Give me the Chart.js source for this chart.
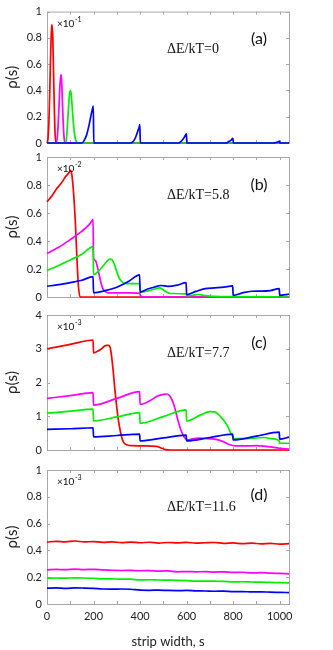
<!DOCTYPE html>
<html>
<head>
<meta charset="utf-8">
<script src="https://cdn.jsdelivr.net/npm/chart.js@4"></script>
<style>
  body { margin: 0; background: #fff; }
  #wrap { position: relative; width: 333px; height: 650px; }
  #wrap canvas { position: absolute; left: 0; top: 0; }
</style>
</head>
<body>
<div id="wrap">
  <canvas id="pa" width="333" height="650"></canvas>
  <canvas id="pb" width="333" height="650"></canvas>
  <canvas id="pc" width="333" height="650"></canvas>
  <canvas id="pd" width="333" height="650"></canvas>
</div>
<script>
// x tick marks and the labels shown on the bottom panel
const xTickValues = [0, 100, 200, 300, 400, 500, 600, 700, 800, 900, 1000];
const xTickLabels = [0, 200, 400, 600, 800, 1000];

// panel (a)  dE/kT = 0   (x10^-1)
const aRedX = [0, 4, 8, 12, 16, 20, 22, 25, 28, 31, 34, 38, 1040];
const aRedY = [0, 0.03, 0.15, 0.4, 0.7, 0.88, 0.9, 0.8, 0.55, 0.3, 0.1, 0, 0];
const aMagX = [0, 40, 44, 48, 52, 56, 60, 63, 66, 70, 74, 78, 1040];
const aMagY = [0, 0, 0.04, 0.14, 0.3, 0.45, 0.52, 0.47, 0.32, 0.14, 0.03, 0, 0];
const aGreenX = [0, 80, 85, 90, 95, 100, 104, 108, 113, 118, 124, 132, 1040];
const aGreenY = [0, 0, 0.06, 0.2, 0.34, 0.4, 0.37, 0.28, 0.16, 0.07, 0.02, 0, 0];
const aBlueX = [0, 150, 160, 170, 180, 188, 194, 199, 201, 360, 370, 380, 390, 396, 399, 401,
  565, 575, 585, 592, 599, 601, 770, 780, 790, 799, 801, 975, 985, 995, 999, 1001, 1040];
const aBlueY = [0, 0, 0.02, 0.06, 0.13, 0.2, 0.25, 0.28, 0, 0, 0.01, 0.04, 0.09, 0.12, 0.14, 0,
  0, 0.01, 0.03, 0.05, 0.07, 0, 0, 0.01, 0.02, 0.035, 0, 0, 0.004, 0.01, 0.015, 0, 0];

// panel (b)  dE/kT = 5.8   (x10^-2)
const bRedX = [0, 20, 40, 60, 80, 95, 102, 107, 113, 118, 122, 128, 135, 142, 1040];
const bRedY = [0.68, 0.72, 0.77, 0.81, 0.86, 0.89, 0.905, 0.87, 0.77, 0.65, 0.53, 0.3, 0.08, 0, 0];
const bMagX = [0, 50, 100, 150, 180, 196, 198, 200, 208, 216, 224, 232, 240, 250, 265, 300, 350, 398, 402, 420, 1040];
const bMagY = [0.31, 0.355, 0.41, 0.47, 0.515, 0.55, 0.555, 0.28, 0.26, 0.22, 0.16, 0.1, 0.06, 0.04, 0.03, 0.03, 0.03, 0.028, 0.008, 0, 0];
const bGreenX = [0, 50, 100, 150, 198, 200, 230, 255, 270, 280, 290, 300, 312, 325, 340, 370, 398, 400, 430, 460, 485, 505, 530, 598, 600, 625, 650, 680, 720, 800, 1040];
const bGreenY = [0.19, 0.225, 0.265, 0.305, 0.36, 0.16, 0.2, 0.25, 0.27, 0.265, 0.23, 0.18, 0.13, 0.105, 0.095, 0.095, 0.095, 0.035, 0.042, 0.055, 0.065, 0.045, 0.025, 0.022, 0.008, 0.012, 0.018, 0.01, 0.005, 0.003, 0];
const bBlueX = [0, 50, 100, 150, 198, 200, 250, 300, 350, 398, 400, 430, 460, 490, 520, 560, 598, 600, 640, 680, 720, 760, 798, 800, 840, 880, 920, 960, 998, 1000, 1040];
const bBlueY = [0.077, 0.088, 0.103, 0.12, 0.145, 0.03, 0.045, 0.07, 0.11, 0.158, 0.035, 0.055, 0.07, 0.082, 0.076, 0.085, 0.102, 0.016, 0.04, 0.06, 0.065, 0.07, 0.079, 0.012, 0.03, 0.041, 0.042, 0.046, 0.06, 0.012, 0.02];

// panel (c)  dE/kT = 7.7   (x10^-3)
const cRedX = [0, 100, 198, 200, 230, 255, 265, 272, 278, 285, 293, 300, 307, 314, 321, 330, 345, 370, 420, 470, 490, 510, 530, 1040];
const cRedY = [3.0, 3.13, 3.26, 2.88, 2.98, 3.1, 3.1, 3.03, 2.75, 2.3, 1.7, 1.25, 0.88, 0.6, 0.38, 0.22, 0.15, 0.13, 0.12, 0.11, 0.06, 0.01, 0, 0];
const cMagX = [0, 100, 198, 200, 300, 398, 400, 440, 475, 500, 515, 530, 545, 560, 575, 590, 605, 620, 650, 680, 720, 750, 780, 810, 850, 900, 950, 1000, 1040];
const cMagY = [1.53, 1.61, 1.7, 1.33, 1.53, 1.73, 1.35, 1.45, 1.6, 1.65, 1.66, 1.58, 1.35, 0.95, 0.6, 0.38, 0.3, 0.32, 0.35, 0.34, 0.32, 0.27, 0.17, 0.12, 0.12, 0.13, 0.1, 0.05, 0.03];
const cGreenX = [0, 100, 198, 200, 300, 398, 400, 500, 598, 600, 660, 700, 720, 750, 775, 790, 798, 800, 860, 930, 970, 998, 1000, 1040];
const cGreenY = [1.09, 1.15, 1.21, 0.86, 0.98, 1.11, 0.79, 0.99, 1.19, 0.86, 1.04, 1.14, 1.13, 0.96, 0.72, 0.5, 0.4, 0.34, 0.34, 0.37, 0.33, 0.27, 0.2, 0.2];
const cBlueX = [0, 100, 198, 200, 300, 398, 400, 500, 598, 600, 700, 798, 800, 900, 998, 1000, 1040];
const cBlueY = [0.61, 0.63, 0.66, 0.39, 0.43, 0.47, 0.27, 0.36, 0.44, 0.27, 0.37, 0.47, 0.3, 0.41, 0.53, 0.32, 0.38];

// panel (d)  dE/kT = 11.6   (x10^-3)
const dX = [0, 40, 80, 120, 160, 200, 240, 280, 320, 360, 400, 440, 480, 520, 560, 600, 640, 680, 720, 760, 800, 840, 880, 920, 960, 1000, 1040];
const dRedY = [0.462, 0.468, 0.464, 0.47, 0.463, 0.466, 0.46, 0.464, 0.458, 0.462, 0.457, 0.461, 0.455, 0.459, 0.456, 0.46, 0.454, 0.457, 0.459, 0.452, 0.456, 0.45, 0.454, 0.449, 0.452, 0.447, 0.45];
const dMagY = [0.255, 0.258, 0.256, 0.26, 0.257, 0.259, 0.254, 0.252, 0.25, 0.251, 0.248, 0.249, 0.246, 0.247, 0.24, 0.242, 0.24, 0.241, 0.238, 0.24, 0.236, 0.237, 0.232, 0.234, 0.23, 0.228, 0.225];
const dGreenY = [0.192, 0.194, 0.193, 0.195, 0.194, 0.192, 0.188, 0.187, 0.186, 0.185, 0.18, 0.181, 0.179, 0.178, 0.177, 0.175, 0.17, 0.171, 0.17, 0.169, 0.165, 0.166, 0.164, 0.163, 0.161, 0.159, 0.157];
const dBlueY = [0.118, 0.12, 0.117, 0.121, 0.119, 0.116, 0.112, 0.111, 0.112, 0.11, 0.103, 0.102, 0.104, 0.101, 0.1, 0.101, 0.098, 0.097, 0.095, 0.096, 0.092, 0.093, 0.09, 0.091, 0.088, 0.087, 0.085];

const RED = '#ff0000', MAG = '#ff00ff', GREEN = '#00ee00', BLUE = '#0000ff';
const LABEL_FONT = 'Lato, "Open Sans", sans-serif';

const toPoints = (xs, ys) => xs.map((x, i) => ({x: x, y: ys[i]}));

// box border + inward tick marks on all four sides
const boxTicks = {
  id: 'boxTicks',
  beforeDatasetsDraw(chart) {
    const {ctx, chartArea: a, scales} = chart;
    ctx.save();
    ctx.strokeStyle = '#a8a8a8';
    ctx.lineWidth = 1;
    ctx.strokeRect(a.left + 0.5, a.top + 0.5, a.right - a.left, a.bottom - a.top);
    ctx.beginPath();
    scales.x.ticks.forEach((t) => {
      const px = Math.round(scales.x.getPixelForValue(t.value)) + 0.5;
      ctx.moveTo(px, a.bottom); ctx.lineTo(px, a.bottom - 3);
      ctx.moveTo(px, a.top); ctx.lineTo(px, a.top + 3);
    });
    scales.y.ticks.forEach((t) => {
      const py = Math.round(scales.y.getPixelForValue(t.value)) + 0.5;
      ctx.moveTo(a.left, py); ctx.lineTo(a.left + 3, py);
      ctx.moveTo(a.right, py); ctx.lineTo(a.right - 3, py);
    });
    ctx.stroke();
    ctx.restore();
  }
};

// exponent, panel letter and energy label
const panelText = {
  id: 'panelText',
  afterDraw(chart, args, opts) {
    const {ctx, chartArea: a} = chart;
    ctx.save();
    ctx.fillStyle = '#111';
    ctx.textBaseline = 'middle';
    ctx.textAlign = 'left';
    ctx.font = '10px ' + LABEL_FONT;
    const ex = a.left + 10, ey = a.top + 12;
    ctx.fillText('\u00d710', ex, ey);
    const w = ctx.measureText('\u00d710').width;
    ctx.font = '7px ' + LABEL_FONT;
    ctx.fillText(opts.exp, ex + w + 0.5, ey - 4);
    ctx.font = '16px ' + LABEL_FONT;
    ctx.textAlign = 'center';
    ctx.fillText(opts.label, 259, a.top + opts.labelDy);
    ctx.font = '14px "Liberation Serif", "DejaVu Serif", serif';
    ctx.textAlign = 'left';
    ctx.fillText(opts.energy, 167, a.top + opts.energyDy);
    ctx.restore();
  }
};

const makePanel = (id, series, yMax, yStep, top, bottom, showX, text) => {
  const datasets = series.map((s, i) => ({
    data: toPoints(s[0], s[1]),
    borderColor: s[2],
    borderWidth: 1.7,
    pointRadius: 0,
    fill: false,
    cubicInterpolationMode: 'monotone',
    clip: false,
    order: series.length - i
  }));
  new Chart(document.getElementById(id), {
    type: 'line',
    data: {datasets: datasets},
    plugins: [boxTicks, panelText],
    options: {
      responsive: false,
      animation: false,
      events: [],
      layout: {padding: {top: top, bottom: showX ? 0 : 650 - bottom, left: 0, right: 44}},
      plugins: {
        legend: {display: false},
        tooltip: {enabled: false},
        panelText: text
      },
      scales: {
        x: {
          type: 'linear',
          min: 0,
          max: 1040,
          grid: {display: false, drawTicks: false},
          border: {display: false},
          afterBuildTicks: (scale) => { scale.ticks = xTickValues.map((v) => ({value: v})); },
          ticks: {
            display: showX,
            autoSkip: false,
            maxRotation: 0,
            padding: 6,
            color: '#222',
            font: {family: LABEL_FONT, size: 11},
            callback: (v) => (xTickLabels.includes(v) ? String(v) : '')
          },
          title: {
            display: showX,
            text: 'strip width, s',
            color: '#222',
            font: {family: LABEL_FONT, size: 13},
            padding: {top: 0, bottom: 0}
          },
          afterFit: (scale) => { scale.height = showX ? 650 - bottom : 0; }
        },
        y: {
          min: 0,
          max: yMax,
          grid: {display: false, drawTicks: false},
          border: {display: false},
          ticks: {
            stepSize: yStep,
            padding: 5,
            color: '#222',
            font: {family: LABEL_FONT, size: 11},
            callback: (v) => String(v)
          },
          title: {
            display: true,
            text: '\u03c1(s)',
            color: '#222',
            font: {family: LABEL_FONT, size: 15},
            padding: {top: 3, bottom: 0}
          },
          afterFit: (scale) => { scale.width = 47; }
        }
      }
    }
  });
};

makePanel('pa', [[aRedX, aRedY, RED], [aMagX, aMagY, MAG], [aGreenX, aGreenY, GREEN], [aBlueX, aBlueY, BLUE]],
  1, 0.2, 0, 143, false, {exp: '-1', label: '(a)', labelDy: 27, energy: '\u0394E/kT=0', energyDy: 38});
makePanel('pb', [[bRedX, bRedY, RED], [bMagX, bMagY, MAG], [bGreenX, bGreenY, GREEN], [bBlueX, bBlueY, BLUE]],
  1, 0.2, 157, 297, false, {exp: '-2', label: '(b)', labelDy: 28, energy: '\u0394E/kT=5.8', energyDy: 38});
makePanel('pc', [[cRedX, cRedY, RED], [cMagX, cMagY, MAG], [cGreenX, cGreenY, GREEN], [cBlueX, cBlueY, BLUE]],
  4, 1, 315, 450, false, {exp: '-3', label: '(c)', labelDy: 28, energy: '\u0394E/kT=7.7', energyDy: 38});
makePanel('pd', [[dX, dRedY, RED], [dX, dMagY, MAG], [dX, dGreenY, GREEN], [dX, dBlueY, BLUE]],
  1, 0.2, 470, 604, true, {exp: '-3', label: '(d)', labelDy: 25, energy: '\u0394E/kT=11.6', energyDy: 37});
</script>
</body>
</html>
